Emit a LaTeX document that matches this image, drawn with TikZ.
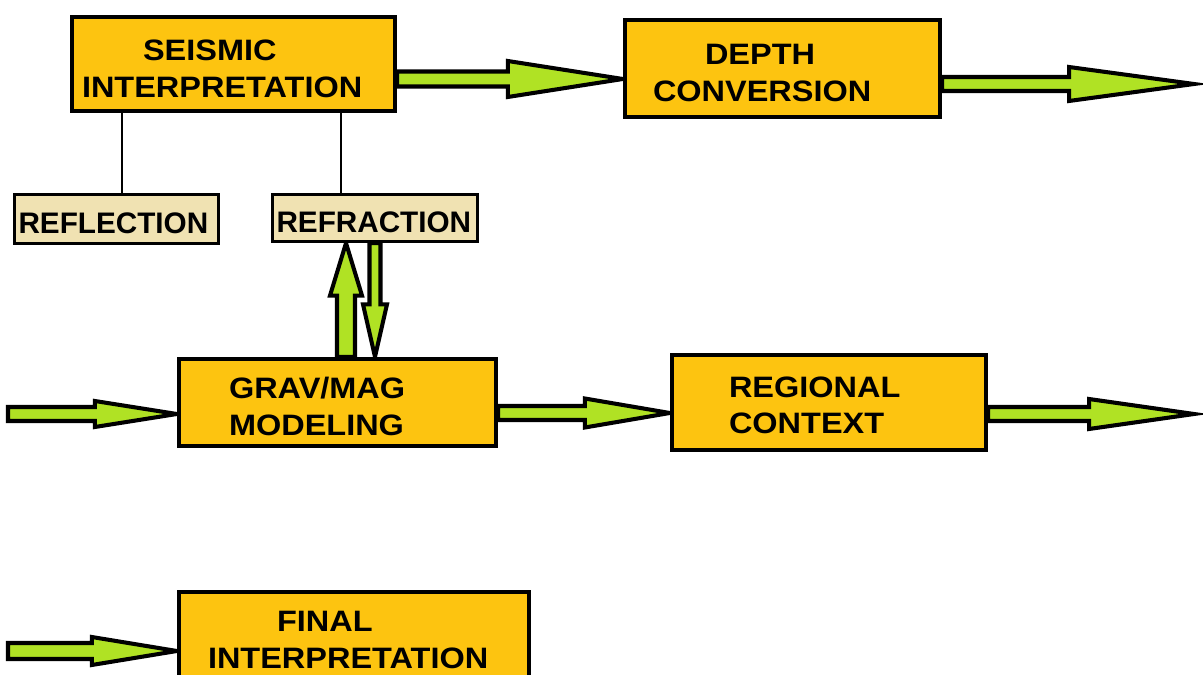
\documentclass[tikz,border=0pt]{standalone}
\usepackage{fontspec}
\setmainfont{Liberation Sans}
\newfontfamily\stagefont[FakeStretch=1.1]{Liberation Sans}
\usepackage{tikz}
\usetikzlibrary{calc, backgrounds}
\definecolor{stageorange}{RGB}{253,196,16}
\definecolor{methodbeige}{RGB}{240,226,178}
\definecolor{flowgreen}{RGB}{176,226,36}
\tikzset{
  stage/.style  = {rectangle, draw=black, line width=2.5pt, fill=stageorange, inner sep=0pt, align=left,
                   font=\stagefont\bfseries\fontsize{16.8pt}{21pt}\selectfont},
  method/.style = {rectangle, draw=black, line width=1.8pt, fill=methodbeige, inner sep=0pt, align=left,
                   font=\bfseries\fontsize{16.9pt}{20pt}\selectfont},
  drop/.style   = {execute at begin node={\rule{0pt}{#1}}},
  link/.style   = {draw=black, line width=1.1pt},
  flow/.style   = {draw=black, fill=flowgreen, line width=2.3pt, line join=miter},
}
% fat arrow: start, end, shaft half width, head half width, head length
\newcommand{\blockarrow}[5]{%
  \path (#1) coordinate (ba-s) (#2) coordinate (ba-e);
  \path ($(ba-e)!#5!(ba-s)$) coordinate (ba-h);
  \filldraw[flow] ($(ba-s)!#3!90:(ba-h)$) -- ($(ba-h)!#3!-90:(ba-s)$) -- ($(ba-h)!#4!-90:(ba-s)$)
    -- (ba-e) -- ($(ba-h)!#4!90:(ba-s)$) -- ($(ba-h)!#3!90:(ba-s)$) -- ($(ba-s)!#3!-90:(ba-h)$) -- cycle;
}

\begin{document}
\begin{tikzpicture}[x=0.02cm, y=-0.02cm]
    \useasboundingbox (0,0) rectangle (1203,675);

    % processing stages
    \node[stage, drop=17pt, text width=6.46cm, minimum height=1.88cm] (seis) at (233.5,64)
      {\hspace*{14.2mm}SEISMIC\\\hspace*{2mm}INTERPRETATION};
    \node[stage, drop=17pt, text width=6.3cm, minimum height=1.94cm] (depth) at (782.5,68.5)
      {\hspace*{16mm}DEPTH\\\hspace*{5.6mm}CONVERSION};
    \node[stage, drop=17pt, text width=6.34cm, minimum height=1.74cm] (grav) at (337.5,402.5)
      {\hspace*{10mm}GRAV/MAG\\\hspace*{10mm}MODELING};
    \node[stage, drop=15pt, text width=6.28cm, minimum height=1.9cm] (regional) at (829,402.5)
      {\hspace*{11.4mm}REGIONAL\\\hspace*{11.4mm}CONTEXT};
    \node[stage, text width=7cm, minimum height=1.92cm] (final) at (354,640)
      {\hspace*{19.6mm}FINAL\\\hspace*{5.8mm}INTERPRETATION};

    % seismic methods
    \node[method, drop=17pt, text width=4.08cm, minimum height=0.98cm] (refl) at (116.5,219) {\hspace*{0.8mm}REFLECTION};
    \node[method, drop=17pt, text width=4.1cm, minimum height=0.94cm] (refr) at (375,218) {\hspace*{0.8mm}REFRACTION};

    \draw[link] (seis.south -| 122,0) -- (refl.north -| 122,0);
    \draw[link] (seis.south -| 341,0) -- (refr.north -| 341,0);

    % free arrow ends
    \coordinate (outdepth) at (1194,84);
    \coordinate (outregional) at (1194,414);
    \coordinate (ingrav) at (8,414);
    \coordinate (infinal) at (8,651);

    % flow arrows
    \begin{scope}[on background layer]
      \blockarrow{[yshift=-0.3cm]seis.east}{[yshift=-0.21cm]depth.west}{1.5mm}{3.6mm}{2.3cm}
      \blockarrow{[yshift=-0.31cm]depth.east}{outdepth}{1.4mm}{3.4mm}{2.5cm}
      \blockarrow{ingrav}{[yshift=-0.23cm]grav.west}{1.4mm}{2.6mm}{1.64cm}
      \blockarrow{[yshift=-0.21cm]grav.east}{[yshift=-0.21cm]regional.west}{1.4mm}{2.9mm}{1.7cm}
      \blockarrow{[yshift=-0.23cm]regional.east}{outregional}{1.4mm}{3mm}{2.1cm}
      \blockarrow{infinal}{[yshift=-0.22cm]final.west}{1.6mm}{2.8mm}{1.7cm}
      \blockarrow{[xshift=0.17cm]grav.north}{[xshift=-0.58cm]refr.south}{1.8mm}{3.2mm}{1.05cm}
      \blockarrow{refr.south}{[xshift=0.75cm]grav.north}{1.1mm}{2.4mm}{1.05cm}
    \end{scope}
\end{tikzpicture}
\end{document}
